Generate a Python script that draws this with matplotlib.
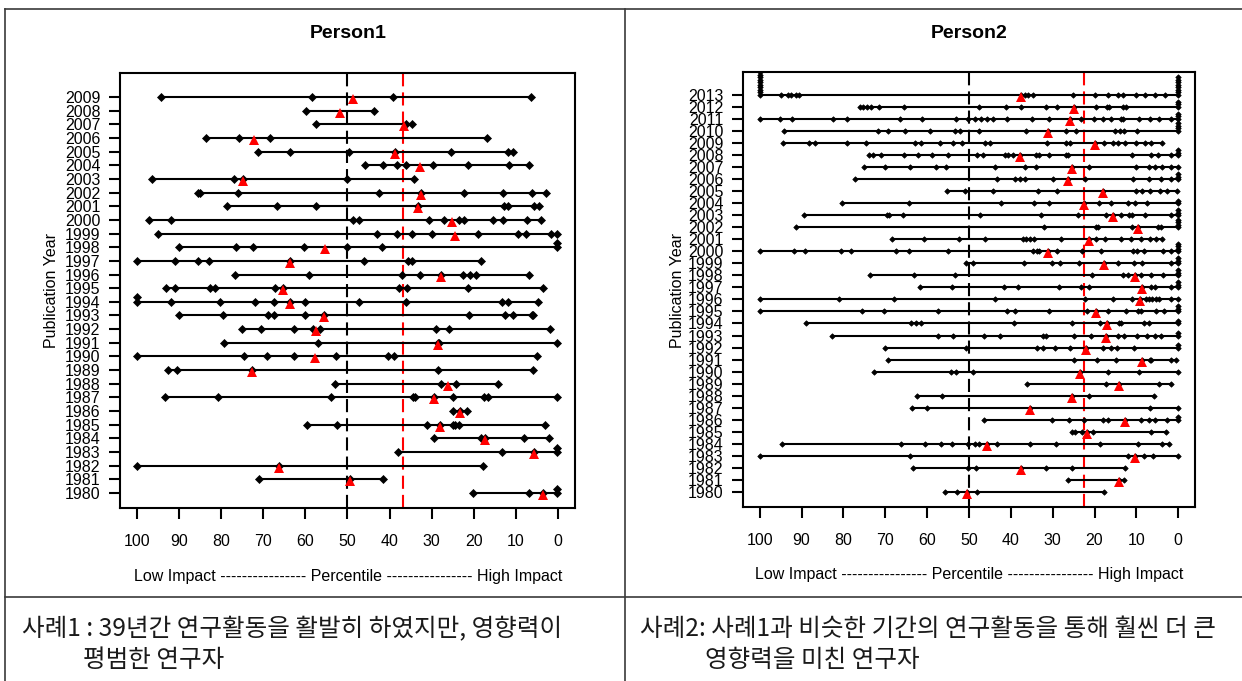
import matplotlib
matplotlib.use('Agg')
import matplotlib.pyplot as plt
import matplotlib.transforms as mtransforms
from matplotlib.lines import Line2D

plt.rcParams['font.family'] = ['Liberation Sans', 'Noto Sans CJK KR', 'DejaVu Sans']

W, H = 1242, 681

# ---------------- data (percentile of each paper, per publication year) ----------------
p1_years = list(range(2009, 1979, -1))
p1_scores = [
    [94.2, 58.5, 39.2, 6.4],                                                  # 2009
    [59.9, 43.7],                                                             # 2008
    [57.4, 36.0, 34.8],                                                       # 2007
    [83.6, 75.8, 68.5, 16.8],                                                 # 2006
    [71.2, 63.7, 49.7, 38.7, 25.5, 11.9, 10.6],                               # 2005
    [45.8, 41.5, 38.2, 36.2, 29.8, 21.3, 11.7, 6.9],                          # 2004
    [96.3, 76.9, 74.9, 50.0, 34.2],                                           # 2003
    [85.6, 85.0, 75.9, 42.5, 32.5, 22.3, 13.2, 6.1, 3.0],                     # 2002
    [78.7, 66.8, 57.4, 33.3, 12.9, 11.8, 5.8, 4.5],                           # 2001
    [97.0, 91.9, 48.7, 47.2, 30.6, 27.0, 23.5, 22.3, 15.4, 13.2, 7.5, 4.0],   # 2000
    [95.0, 43.1, 38.2, 34.6, 29.9, 19.0, 9.6, 7.7, 1.6, 0.3],                 # 1999
    [90.1, 76.5, 72.4, 60.3, 50.2, 41.7, 0.3, 0.3],                           # 1998
    [100, 90.9, 85.6, 82.9, 63.7, 46.0, 35.6, 34.8, 18.2],                    # 1997
    [76.7, 59.2, 37.0, 32.9, 27.9, 22.7, 20.9, 19.4, 6.9],                    # 1996
    [93.1, 91.0, 82.7, 81.4, 67.2, 65.2, 37.7, 35.9, 21.4, 3.5],              # 1995
    [100, 100, 91.9, 80.3, 72.0, 67.5, 63.7, 60.0, 47.2, 36.0, 13.3, 11.8, 4.9],  # 1994
    [90.1, 79.5, 68.8, 67.4, 60.1, 55.6, 21.2, 12.6, 10.8, 6.3, 5.9],         # 1993
    [75.0, 70.5, 62.6, 58.1, 56.6, 29.1, 25.8, 1.9],                          # 1992
    [79.4, 56.9, 28.6, 28.2, 0.2],                                            # 1991
    [100, 74.6, 69.2, 62.8, 52.8, 40.4, 38.9, 5.1],                           # 1990
    [92.5, 90.4, 72.6, 28.4, 5.9],                                            # 1989
    [53.0, 27.8, 24.2, 14.3],                                                 # 1988
    [93.4, 80.7, 53.8, 34.5, 33.9, 29.5, 25.0, 17.5, 16.7, 0.2],              # 1987
    [25.0, 23.4, 21.6],                                                       # 1986
    [59.6, 52.4, 31.1, 28.1, 25.0, 24.5, 23.5, 3.2],                          # 1985
    [29.4, 18.4, 17.4, 8.1, 2.1],                                             # 1984
    [38.0, 13.3, 5.8, 0.2, 0.2],                                              # 1983
    [100, 66.2, 17.8],                                                        # 1982
    [70.9, 49.4, 41.5],                                                       # 1981
    [20.1, 6.9, 3.6, 0.2, 0.2],                                               # 1980
]
p1_median = [48.8, 51.8, 36.5, 72.2, 38.7, 32.9, 74.9, 32.5, 33.3, 25.3,
             24.4, 55.4, 63.7, 27.9, 65.2, 63.7, 55.6, 57.4, 28.6, 57.7,
             72.6, 26.1, 29.5, 23.4, 28.1, 17.4, 5.8, 66.2, 49.4, 3.6]
p1_overall = 36.8

p2_years = list(range(2013, 1979, -1))
p2_scores = [
    [100] * 10 + [95.0, 93.3, 92.5, 91.3, 90.7, 37.5, 36.6, 36.0, 34.8, 25.1, 19.8,
                  16.7, 14.5, 13.3, 10.2, 8.0, 5.5, 3.2] + [0] * 8,              # 2013
    [76.0, 75.4, 74.4, 73.4, 71.4, 65.6, 47.7, 41.2, 37.5, 31.5, 29.0, 25.0, 19.7,
     17.1, 16.5, 13.3, 12.5] + [0] * 3,                                          # 2012
    [100, 95.2, 92.3, 82.4, 79.2, 66.4, 61.3, 53.0, 50.2, 48.5, 47.1, 45.6, 44.3,
     40.9, 35.0, 31.0, 25.8, 23.3, 20.1, 18.1, 16.1, 13.7, 13.1, 9.4, 6.7, 4.6,
     1.8] + [0] * 3,                                                             # 2011
    [94.1, 71.7, 69.3, 65.3, 59.4, 53.3, 52.2, 47.7, 36.3, 31.2, 26.8, 24.4, 15.1,
     14.0, 12.9, 9.8] + [0] * 4,                                                 # 2010
    [94.4, 88.2, 86.9, 79.1, 74.7, 62.9, 61.5, 57.0, 53.8, 51.7, 46.1, 45.1, 31.4,
     26.8, 25.8, 19.9, 17.7, 15.5, 14.3, 12.8, 10.2, 8.0, 6.4, 4.0],             # 2009
    [74.0, 72.9, 71.0, 65.6, 62.3, 58.8, 55.0, 48.0, 46.7, 41.5, 40.6, 39.6, 37.9,
     34.0, 33.2, 30.8, 26.8, 26.3, 11.1, 6.6, 4.8, 1.7] + [0] * 3,               # 2008
    [75.0, 70.1, 64.1, 57.8, 55.6, 43.7, 36.6, 34.1, 25.4, 21.3, 10.0, 7.1, 5.5,
     3.8, 1.8, 0],                                                               # 2007
    [77.2, 43.3, 38.9, 37.7, 36.6, 30.0, 26.4, 22.3, 10.7, 7.0, 4.2, 1.8] + [0] * 3,  # 2006
    [55.2, 51.0, 44.2, 33.6, 29.0, 17.9, 10.2, 8.7, 6.7, 4.4, 2.6, 0.2],         # 2005
    [80.4, 64.4, 42.3, 34.4, 30.8, 22.5, 18.9, 16.1, 12.0, 10.4, 7.4, 0, 0],     # 2004
    [89.4, 69.7, 69.1, 65.8, 47.3, 32.9, 24.0, 17.3, 15.5, 13.6, 11.7, 11.1, 7.9,
     1.8] + [0] * 3,                                                             # 2003
    [91.3, 32.0, 19.7, 19.1, 11.1, 9.5, 4.8, 4.2] + [0] * 4,                     # 2002
    [68.5, 60.8, 52.4, 46.1, 37.1, 36.3, 35.5, 34.4, 28.0, 21.3, 19.7, 17.5, 13.7,
     11.2, 8.8, 6.8, 5.4, 4.0],                                                  # 2001
    [100, 91.7, 89.1, 80.5, 78.3, 67.5, 64.4, 55.0, 34.7, 33.8, 33.2, 31.2, 29.0,
     22.9, 18.5, 10.8, 9.8, 8.2, 3.6, 1.7] + [0] * 4,                            # 2000
    [50.6, 49.0, 36.9, 30.2, 28.2, 23.6, 17.7, 14.3, 10.5, 8.6, 1.8] + [0] * 3,  # 1999
    [73.6, 63.1, 53.3, 20.5, 13.2, 12.1, 10.3, 8.8, 6.4, 3.6] + [0] * 3,         # 1998
    [61.7, 54.0, 41.7, 38.2, 28.6, 23.3, 21.3, 8.6, 6.6, 5.6, 1.8] + [0] * 3,    # 1997
    [100, 81.0, 67.9, 43.9, 22.2, 15.5, 11.0, 9.1, 7.8, 7.0, 6.2, 5.4, 4.6, 1.8, 0],  # 1996
    [100, 75.6, 70.4, 57.5, 40.9, 38.9, 31.0, 21.9, 19.7, 16.9, 12.5, 9.5, 8.8, 5.4,
     3.4] + [0] * 3,                                                             # 1995
    [88.9, 63.9, 62.7, 61.5, 39.3, 25.4, 18.6, 17.1, 14.1, 13.7, 8.3, 7.0, 0, 0],  # 1994
    [82.8, 57.5, 53.8, 46.3, 42.5, 32.4, 31.6, 25.0, 20.9, 17.3, 14.3, 12.9, 9.8,
     7.4, 5.5, 4.2, 0, 0],                                                       # 1993
    [70.1, 50.6, 33.8, 32.4, 29.4, 25.8, 22.0, 18.1, 16.0, 14.7, 10.5, 0, 0],    # 1992
    [69.3, 24.8, 19.5, 14.8, 8.6, 6.8, 6.6, 1.7, 0.6],                           # 1991
    [72.6, 54.2, 53.0, 49.0, 23.5, 16.7, 9.4, 0],                                # 1990
    [36.1, 17.3, 14.1, 4.6, 1.7],                                                # 1989
    [62.5, 56.4, 25.4, 21.3, 5.8],                                               # 1988
    [63.7, 60.0, 35.5, 6.8, 0],                                                  # 1987
    [46.4, 30.2, 26.2, 22.5, 18.1, 16.7, 12.8, 8.8, 7.0, 5.6, 2.6, 0, 0],        # 1986
    [25.4, 24.6, 23.0, 21.9, 20.3, 6.4, 3.0],                                    # 1985
    [94.8, 66.3, 60.4, 56.8, 54.1, 50.2, 48.6, 47.7, 45.6, 43.4, 35.5, 29.2, 18.7,
     9.5, 4.0, 2.2],                                                             # 1984
    [100, 64.0, 12.1, 10.3, 8.2, 6.0, 0],                                        # 1983
    [63.3, 50.2, 48.3, 37.5, 31.7, 25.4, 12.7],                                  # 1982
    [26.4, 14.1, 12.9],                                                          # 1981
    [55.8, 52.9, 50.4, 48.0, 17.7],                                              # 1980
]
p2_median = [37.5, 25.0, 25.8, 31.2, 19.9, 37.9, 25.4, 26.4, 17.9, 22.5,
             15.5, 9.5, 21.3, 31.2, 17.7, 10.3, 8.6, 9.1, 19.7, 17.1,
             17.3, 22.0, 8.6, 23.5, 14.1, 25.4, 35.5, 12.8, 21.9, 45.6,
             10.3, 37.5, 14.1, 50.4]
p2_overall = 22.6

x_ticks = [100, 90, 80, 70, 60, 50, 40, 30, 20, 10, 0]
x_label = 'Low Impact ---------------- Percentile ---------------- High Impact'
caption1 = ['사례1 : 39년간 연구활동을 활발히 하였지만, 영향력이', '평범한 연구자']
caption2 = ['사례2: 사례1과 비슷한 기간의 연구활동을 통해 훨씬 더 큰', '영향력을 미친 연구자']


def px(x, y):
    # pixel position in the picture -> figure fraction
    return x / W, 1 - y / H


def draw_panel(ax, years, scores, medians, overall, stack, dsize):
    for yr, vals in zip(years, scores):
        ax.plot([min(vals), max(vals)], [yr, yr], color='black', lw=1.5,
                solid_capstyle='butt', zorder=2)
        # repeated values are stacked upwards, like R's stripchart
        seen = {}
        ys = []
        for v in vals:
            k = seen.get(v, 0)
            seen[v] = k + 1
            ys.append(yr + k * stack)
        ax.plot(vals, ys, 'D', color='black', ms=dsize, mew=0.5, zorder=3)

    tri = mtransforms.offset_copy(ax.transData, fig=ax.figure, y=-2, units='dots')
    ax.plot(medians, years, '^', color='red', ms=6.5, mew=0, transform=tri,
            linestyle='none', zorder=4)

    ax.axvline(50, color='black', lw=1.5, dashes=(6.3, 2.9), zorder=1)
    ax.axvline(overall, color='red', lw=1.5, dashes=(6.3, 2.9), zorder=1)

    ax.set_xlim(104, -4)
    ax.set_xticks(x_ticks)
    ax.set_yticks(years)
    ax.set_yticklabels([str(y) for y in years])
    ax.tick_params(axis='x', length=8, width=1.5, pad=11, labelsize=11.5)
    ax.tick_params(axis='y', length=8, width=1.5, pad=6, labelsize=11.5)
    for s in ax.spines.values():
        s.set_linewidth(1.5)


fig = plt.figure(figsize=(W / 100, H / 100), dpi=100)

ax1 = fig.add_axes([120 / W, 1 - 508 / H, 455 / W, 435 / H])
draw_panel(ax1, p1_years, p1_scores, p1_median, p1_overall, 0.32, 3.6)
ax1.set_ylim(1978.9, 2010.76)

ax2 = fig.add_axes([743 / W, 1 - 507 / H, 452 / W, 435 / H])
draw_panel(ax2, p2_years, p2_scores, p2_median, p2_overall, 0.21, 2.8)
ax2.set_ylim(1978.75, 2014.9)

# titles and axis labels
fig.text(*px(348, 34), 'Person1', ha='center', va='center', fontsize=14, fontweight='bold')
fig.text(*px(969, 33), 'Person2', ha='center', va='center', fontsize=14, fontweight='bold')
fig.text(*px(348, 577), x_label, ha='center', va='center', fontsize=11.5)
fig.text(*px(969, 575), x_label, ha='center', va='center', fontsize=11.5)
fig.text(*px(52, 290), 'Publication Year', ha='center', va='center', rotation=90, fontsize=11.5)
fig.text(*px(677, 290), 'Publication Year', ha='center', va='center', rotation=90, fontsize=11.5)

# table frame
frame = '#3a3a3a'
fig.add_artist(Line2D([5 / W, 1], [1 - 9 / H, 1 - 9 / H], color=frame, lw=1.2))
fig.add_artist(Line2D([5 / W, 5 / W], [0, 1 - 9 / H], color=frame, lw=1.2))
fig.add_artist(Line2D([625 / W, 625 / W], [0, 1 - 9 / H], color=frame, lw=1.2))
fig.add_artist(Line2D([5 / W, 1], [1 - 597 / H, 1 - 597 / H], color=frame, lw=1.2))

# captions
kr = ['Noto Sans CJK KR', 'DejaVu Sans']
cap = dict(ha='left', va='center', fontsize=17.7, family=kr, color='#1a1a1a')
fig.text(*px(22, 629), caption1[0], **cap)
fig.text(*px(83, 660), caption1[1], **cap)
fig.text(*px(640, 629), caption2[0], **cap)
fig.text(*px(705, 660), caption2[1], **cap)

fig.savefig('out.png', dpi=100)
